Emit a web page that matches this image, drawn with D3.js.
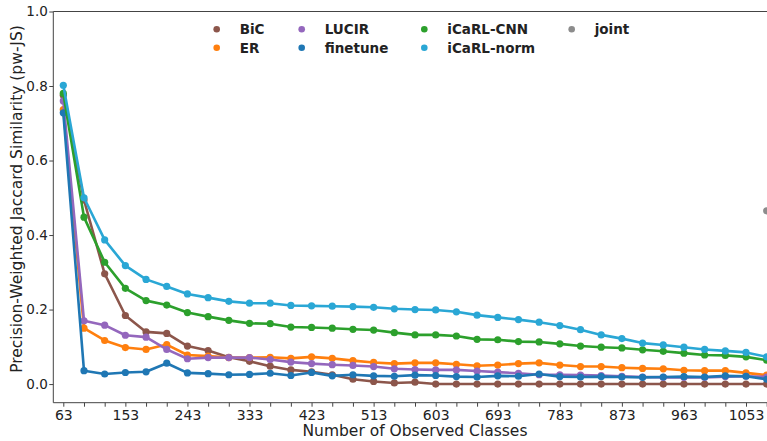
<!DOCTYPE html>
<html>
<head>
<meta charset="utf-8">
<script src="https://cdn.jsdelivr.net/npm/d3@7"></script>
<style>
  html, body { margin: 0; padding: 0; background: #fff; }
  svg { display: block; font-family: "DejaVu Sans", sans-serif; }
</style>
</head>
<body>
<svg id="chart" width="767" height="441"></svg>
<script>
// Observed class counts (one evaluation every 30 classes)
const classes = d3.range(63, 1084, 30);

// pw-JS per method
const bic = [0.775, 0.494, 0.296, 0.184, 0.140, 0.136, 0.102, 0.090, 0.072, 0.061,
  0.048, 0.038, 0.033, 0.025, 0.013, 0.007, 0.003, 0.005, 0.0, 0.0,
  0.0, 0.0, 0.0, 0.0, 0.0, 0.0, 0.0, 0.0, 0.0, 0.0,
  0.0, 0.0, 0.0, 0.0, 0.0];
const er = [0.737, 0.150, 0.117, 0.098, 0.093, 0.106, 0.078, 0.075, 0.071, 0.071,
  0.072, 0.069, 0.073, 0.069, 0.063, 0.058, 0.055, 0.057, 0.057, 0.053,
  0.049, 0.051, 0.055, 0.057, 0.051, 0.047, 0.047, 0.044, 0.042, 0.041,
  0.037, 0.036, 0.036, 0.030, 0.024];
const lucir = [0.760, 0.170, 0.158, 0.131, 0.126, 0.093, 0.068, 0.071, 0.071, 0.071,
  0.066, 0.059, 0.055, 0.052, 0.050, 0.047, 0.041, 0.039, 0.038, 0.038,
  0.035, 0.032, 0.029, 0.025, 0.025, 0.024, 0.023, 0.021, 0.019, 0.018,
  0.018, 0.018, 0.020, 0.021, 0.019];
const finetune = [0.728, 0.036, 0.027, 0.031, 0.033, 0.056, 0.030, 0.028, 0.025, 0.026,
  0.029, 0.023, 0.031, 0.022, 0.025, 0.022, 0.021, 0.024, 0.023, 0.020,
  0.019, 0.022, 0.021, 0.027, 0.020, 0.019, 0.020, 0.019, 0.018, 0.019,
  0.020, 0.019, 0.022, 0.021, 0.013];
const icarlCnn = [0.780, 0.448, 0.327, 0.257, 0.224, 0.212, 0.192, 0.181, 0.171, 0.163,
  0.162, 0.153, 0.152, 0.150, 0.147, 0.145, 0.138, 0.132, 0.132, 0.129,
  0.120, 0.119, 0.114, 0.113, 0.108, 0.102, 0.099, 0.097, 0.092, 0.088,
  0.083, 0.078, 0.077, 0.073, 0.064];
const icarlNorm = [0.802, 0.500, 0.387, 0.318, 0.281, 0.262, 0.242, 0.232, 0.222, 0.217,
  0.217, 0.211, 0.210, 0.209, 0.208, 0.206, 0.202, 0.200, 0.199, 0.194,
  0.185, 0.179, 0.173, 0.166, 0.157, 0.146, 0.132, 0.122, 0.110, 0.105,
  0.099, 0.093, 0.089, 0.085, 0.073];
const jointClasses = [1083];
const joint = [0.465];

const yTicks = [0.0, 0.2, 0.4, 0.6, 0.8, 1.0];
const xTickLabels = d3.range(63, 1054, 90);

const series = [
  { name: "BiC", color: "#8c564b", xs: classes, ys: bic },
  { name: "ER", color: "#ff7f0e", xs: classes, ys: er },
  { name: "LUCIR", color: "#9467bd", xs: classes, ys: lucir },
  { name: "finetune", color: "#1f77b4", xs: classes, ys: finetune },
  { name: "iCaRL-CNN", color: "#2ca02c", xs: classes, ys: icarlCnn },
  { name: "iCaRL-norm", color: "#2aa7d5", xs: classes, ys: icarlNorm },
  { name: "joint", color: "#8c8c8c", xs: jointClasses, ys: joint }
];

const svg = d3.select("#chart");
const plotLeft = 53.3, plotTop = 11.5, plotBottom = 402.7, plotRight = 767;

const x = d3.scaleLinear().domain([63, 1083]).range([63.3, 766.7]);
const y = d3.scaleLinear().domain([-0.05, 1.0]).range([plotBottom, plotTop]);

// Axes
const yAxis = d3.axisLeft(y).tickValues(yTicks).tickFormat(d3.format(".1f")).tickSize(4).tickPadding(1.5);
const gy = svg.append("g").attr("transform", `translate(${plotLeft},0)`).call(yAxis);
gy.select(".domain").remove();
gy.selectAll("text").attr("font-size", 13.5).attr("fill", "#222").attr("font-family", "DejaVu Sans");
gy.selectAll("line").attr("stroke", "#444");

const xAxis = d3.axisBottom(x).tickValues(classes)
  .tickFormat(d => xTickLabels.includes(d) ? d : "").tickSize(4).tickPadding(3);
const gx = svg.append("g").attr("transform", `translate(0,${plotBottom})`).call(xAxis);
gx.select(".domain").remove();
gx.selectAll("text").attr("font-size", 14).attr("fill", "#222").attr("font-family", "DejaVu Sans");
gx.selectAll("line").attr("stroke", "#444");

// Spines (left, top, bottom)
svg.append("path")
  .attr("d", `M${plotRight},${plotTop}H${plotLeft}V${plotBottom}H${plotRight}`)
  .attr("fill", "none").attr("stroke", "#444").attr("stroke-width", 1);

// Axis titles
svg.append("text").attr("x", 415).attr("y", 436).attr("text-anchor", "middle")
  .attr("font-size", 15.5).attr("fill", "#222").text("Number of Observed Classes");
svg.append("text").attr("transform", "translate(22,199) rotate(-90)").attr("text-anchor", "middle")
  .attr("font-size", 15.5).attr("fill", "#222").text("Precision-Weighted Jaccard Similarity (pw-JS)");

// Series
const line = d3.line().x(d => x(d[0])).y(d => y(d[1]));
series.forEach(s => {
  const pts = s.xs.map((c, i) => [c, s.ys[i]]);
  const g = svg.append("g");
  if (pts.length > 1) {
    g.append("path").attr("d", line(pts)).attr("fill", "none")
      .attr("stroke", s.color).attr("stroke-width", 2.6).attr("stroke-linejoin", "round");
  }
  g.selectAll("circle").data(pts).join("circle")
    .attr("cx", d => x(d[0])).attr("cy", d => y(d[1])).attr("r", 3.6).attr("fill", s.color);
});

// Legend (4 columns, column-major)
const legCols = [216.7, 301.7, 424.3, 571.7];
const legRows = [29.3, 47.7];
const lg = svg.append("g");
series.forEach((s, i) => {
  const cx = legCols[Math.floor(i / 2)], cy = legRows[i % 2];
  lg.append("circle").attr("cx", cx).attr("cy", cy).attr("r", 3.3).attr("fill", s.color);
  lg.append("text").attr("x", cx + 23).attr("y", cy).attr("dy", "0.36em")
    .attr("font-size", 13.5).attr("font-weight", "bold").attr("fill", "#222").text(s.name);
});
</script>
</body>
</html>
